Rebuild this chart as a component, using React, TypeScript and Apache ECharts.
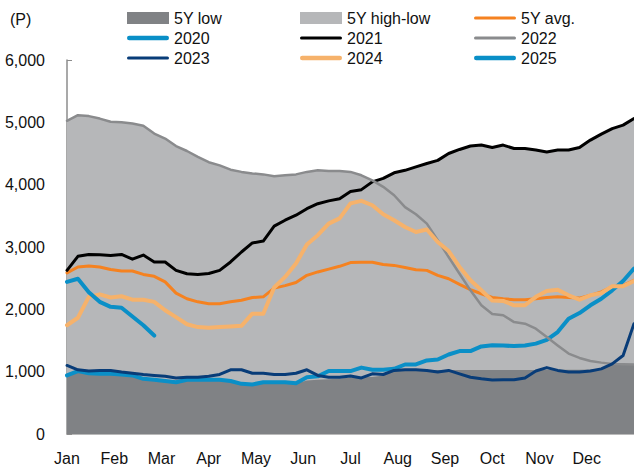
import React, { useEffect, useRef } from 'react';
import * as echarts from 'echarts';

// Month labels (x axis, weekly data: week 0 .. week 52)
const monthLabels = ['Jan', 'Feb', 'Mar', 'Apr', 'May', 'Jun', 'Jul', 'Aug', 'Sep', 'Oct', 'Nov', 'Dec'];
const weeksPerYear = 52;

// 5-year range (bottom = low, top = high)
const fiveYLow = [
  940, 990, 975, 965, 960, 950, 935, 885, 870, 850, 830, 860, 860,
  860, 860, 845, 805, 795, 820, 820, 820, 810, 860, 870, 880, 890,
  905, 910, 915, 940, 1020, 1025, 1025, 1025, 1025, 1025, 1025, 1025, 1025,
  1025, 1025, 1025, 1025, 1025, 1030, 1030, 1030, 1030, 1035, 1045, 1120, 1118, 1115,
];
const fiveYHigh = [
  5025, 5115, 5100, 5060, 5010, 5000, 4980, 4945, 4820, 4740, 4620, 4540, 4445,
  4360, 4310, 4240, 4205, 4180, 4165, 4135, 4150, 4165, 4205, 4230, 4220, 4220,
  4205, 4150, 4070, 4100, 4190, 4230, 4285, 4340, 4390, 4500, 4565, 4620, 4635,
  4595, 4635, 4580, 4580, 4555, 4525, 4555, 4555, 4595, 4715, 4810, 4900, 4955, 5060,
];
const fiveYAvg = [
  2585, 2680, 2695, 2680, 2640, 2615, 2615, 2560, 2530, 2440, 2260, 2170, 2120,
  2090, 2090, 2120, 2145, 2190, 2200, 2340, 2380, 2430, 2545, 2600, 2645, 2690,
  2750, 2755, 2755, 2720, 2705, 2670, 2635, 2625, 2545, 2490, 2400, 2315, 2250,
  2190, 2170, 2155, 2155, 2170, 2190, 2200, 2190, 2180, 2225, 2280, 2360, 2385, 2465,
];
const y2020 = [
  940, 1010, 975, 965, 965, 955, 940, 885, 870, 850, 830, 870, 870,
  870, 870, 850, 805, 795, 830, 830, 830, 815, 910, 925, 1010, 1010,
  1010, 1065, 1030, 1030, 1045, 1115, 1115, 1180, 1195, 1275, 1330, 1330, 1405,
  1425, 1420, 1410, 1420, 1450, 1510, 1635, 1850, 1940, 2065, 2170, 2305, 2455, 2655,
];
const y2021 = [
  2625, 2850, 2880, 2875, 2865, 2880, 2805, 2870, 2760, 2760, 2625, 2570, 2560,
  2575, 2625, 2760, 2920, 3065, 3095, 3335, 3430, 3510, 3615, 3695, 3740, 3775,
  3890, 3920, 4045, 4100, 4190, 4230, 4285, 4340, 4390, 4500, 4565, 4620, 4635,
  4595, 4635, 4580, 4580, 4555, 4525, 4555, 4555, 4595, 4715, 4810, 4900, 4955, 5060,
];
const y2022 = [
  5025, 5115, 5100, 5060, 5010, 5000, 4980, 4945, 4820, 4740, 4620, 4540, 4445,
  4360, 4310, 4240, 4205, 4180, 4165, 4135, 4150, 4165, 4205, 4230, 4220, 4220,
  4205, 4150, 4070, 3965, 3830, 3640, 3525, 3375, 3110, 2840, 2570, 2305, 2065,
  1925, 1905, 1795, 1770, 1690, 1555, 1420, 1290, 1220, 1170, 1145, 1125, 1120, 1115,
];
const y2023 = [
  1100, 1030, 1010, 1020, 1020, 995, 975, 955, 940, 925, 900, 910, 910,
  925, 955, 1030, 1030, 975, 975, 955, 955, 975, 1030, 940, 910, 910,
  930, 900, 965, 955, 1020, 1030, 1030, 1020, 995, 1020, 965, 910, 885,
  865, 870, 870, 900, 1010, 1065, 1020, 995, 995, 1010, 1045, 1125, 1260, 1770,
];
const y2024 = [
  1745, 1865, 2200, 2240, 2190, 2210, 2155, 2155, 2120, 1985, 1875, 1760, 1715,
  1705, 1715, 1725, 1735, 1930, 1930, 2350, 2520, 2735, 3040, 3190, 3375, 3460,
  3700, 3740, 3670, 3525, 3430, 3320, 3240, 3280, 3080, 2935, 2680, 2465, 2305,
  2140, 2135, 2065, 2065, 2200, 2295, 2315, 2225, 2155, 2225, 2260, 2370, 2370, 2455,
];
const y2025 = [2440, 2490, 2275, 2120, 2040, 2025, 1885, 1745, 1580];

const COL = {
  low: '#808285',
  band: '#b6b7b9',
  avg: '#f58220',
  y2020: '#0a8fc7',
  y2021: '#000000',
  y2022: '#8a8b8d',
  y2023: '#083c78',
  y2024: '#f6b26b',
  y2025: '#0a8fc7',
};

const FONT = 'Liberation Sans, Arial, Helvetica, sans-serif';
const thickIcon = 'path://M2.25,0H39.75A2.25,2.25,0,0,1,39.75,4.5H2.25A2.25,2.25,0,0,1,2.25,0Z';
const thinIcon = 'path://M1.5,0H40.5A1.5,1.5,0,0,1,40.5,3H1.5A1.5,1.5,0,0,1,1.5,0Z';

const toPairs = (arr: number[]) => arr.map((v, i) => [i, v]);

export default function App() {
  const ref = useRef<HTMLDivElement>(null);

  useEffect(() => {
    const chart = echarts.init(ref.current!, null, { renderer: 'svg' });

    const icons: Record<string, string> = {
      '5Y low': 'rect',
      '5Y high-low': 'rect',
      '5Y avg.': thinIcon,
      '2020': thickIcon,
      '2021': thinIcon,
      '2022': thinIcon,
      '2023': thinIcon,
      '2024': thickIcon,
      '2025': thickIcon,
    };
    const legendCol = (left: number, names: string[]) => ({
      orient: 'vertical',
      left,
      top: 5,
      itemWidth: 42,
      itemHeight: 12,
      itemGap: 4,
      selectedMode: false,
      itemStyle: { borderWidth: 0 },
      textStyle: { fontSize: 16, fontFamily: FONT, color: '#111', lineHeight: 16 },
      data: names.map((name) => ({ name, icon: icons[name] })),
    });

    const lineSeries = (name: string, data: number[], color: string, width: number) => ({
      name,
      type: 'line',
      data: toPairs(data),
      symbol: 'none',
      color,
      itemStyle: { color },
      lineStyle: { color, width, cap: 'round', join: 'round' },
    });

    const option = {
      animation: false,
      backgroundColor: '#ffffff',
      grid: { left: 67, right: 0, top: 60, bottom: 35, containLabel: false },
      graphic: [
        {
          type: 'text',
          left: 10,
          top: 11,
          style: { text: '(P)', fontSize: 16, fontFamily: FONT, fill: '#111' },
        },
      ],
      legend: [
        legendCol(122, ['5Y low', '2020', '2023']),
        legendCol(295, ['5Y high-low', '2021', '2024']),
        legendCol(469, ['5Y avg.', '2022', '2025']),
      ],
      xAxis: {
        type: 'value',
        min: 0,
        max: weeksPerYear,
        interval: weeksPerYear / 12,
        axisLine: { show: true, lineStyle: { color: '#a3a3a3', width: 1.5 } },
        axisTick: { show: true, inside: true, length: 4, lineStyle: { color: '#a3a3a3', width: 1 } },
        splitLine: { show: false },
        axisLabel: {
          margin: 16,
          fontSize: 16,
          fontFamily: FONT,
          color: '#111',
          showMaxLabel: false,
          formatter: (v: number) => {
            const m = Math.round(v / (weeksPerYear / 12));
            return m < 12 ? monthLabels[m] : '';
          },
        },
      },
      yAxis: {
        type: 'value',
        min: 0,
        max: 6000,
        interval: 1000,
        axisLine: { show: true, lineStyle: { color: '#8c8c8c', width: 1.5 } },
        axisTick: { show: true, inside: true, length: 5, lineStyle: { color: '#8c8c8c', width: 1 } },
        splitLine: { show: false },
        axisLabel: {
          margin: 22,
          fontSize: 16,
          fontFamily: FONT,
          color: '#111',
          formatter: (v: number) => v.toLocaleString('en-US'),
        },
      },
      series: [
        // light band: drawn from 0 up to the 5Y high, then covered below the 5Y low
        {
          name: '5Y high-low',
          type: 'line',
          data: toPairs(fiveYHigh),
          symbol: 'none',
          color: COL.band,
          itemStyle: { color: COL.band },
          lineStyle: { width: 0, color: COL.band },
          areaStyle: { color: COL.band, opacity: 1 },
        },
        {
          name: '5Y low',
          type: 'line',
          data: toPairs(fiveYLow),
          symbol: 'none',
          color: COL.low,
          itemStyle: { color: COL.low },
          lineStyle: { width: 0, color: COL.low },
          areaStyle: { color: COL.low, opacity: 1 },
        },
        lineSeries('5Y avg.', fiveYAvg, COL.avg, 3),
        lineSeries('2020', y2020, COL.y2020, 4),
        lineSeries('2021', y2021, COL.y2021, 3),
        lineSeries('2022', y2022, COL.y2022, 2.5),
        lineSeries('2023', y2023, COL.y2023, 3),
        lineSeries('2024', y2024, COL.y2024, 4),
        lineSeries('2025', y2025, COL.y2025, 4),
      ],
    };

    chart.setOption(option as any);
    return () => chart.dispose();
  }, []);

  return (
    <div
      ref={ref}
      style={{ position: 'absolute', left: 0, top: 0, width: 634, height: 469, background: '#fff' }}
    />
  );
}
